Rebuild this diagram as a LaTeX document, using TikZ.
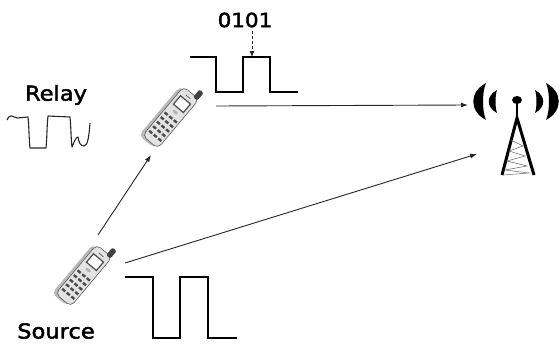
\documentclass[tikz,border=0pt]{standalone}
\usepackage{fontspec}
\setmainfont[FakeStretch=1.1, FakeBold=2.2]{DejaVu Sans}
\usetikzlibrary{arrows.meta}

\tikzset{
  link/.style={black!85, line width=0.9pt, -{Latex[length=7pt,width=5pt]}},
  pulse/.style={black, line width=1.3pt, line join=miter},
  label/.style={font=\fontsize{20.5}{20}\selectfont, inner sep=0pt},
  % a small mobile handset, drawn upright in pt
  handset/.pic={
    \fill[gray!55, rounded corners=5pt] (-13pt,-36pt) rectangle (7pt,28pt);
    \draw[gray!70!black, fill=gray!22, line width=0.6pt, rounded corners=5pt]
      (-10pt,-34pt) rectangle (10pt,30pt);
    \fill[black!75, rounded corners=2pt] (4pt,28pt) rectangle (9.5pt,38pt);
    \draw[black!70, fill=white, line width=1.2pt] (-6.5pt,10pt) rectangle (6.5pt,21pt);
    \draw[black!60, line width=0.8pt] (-3pt,25pt) -- (3pt,25pt);
    \fill[gray!60] (0pt,5pt) ellipse (3pt and 1.5pt);
    \foreach \ky in {-2,-8,-14,-20,-26}
      \foreach \kx in {-6,0,6}
        \fill[gray!60!black] (\kx pt-2pt,\ky pt-1.2pt) rectangle (\kx pt+2pt,\ky pt+1.2pt);
  }
}

\begin{document}
\begin{tikzpicture}[x=1pt, y=-1pt]
  \useasboundingbox (0,0) rectangle (560,343);

  % handsets
  \node[inner sep=0pt, minimum size=40pt] (relay) at (172,116) {};
  \node[inner sep=0pt, minimum size=40pt] (source) at (85,274) {};
  \pic[rotate=-40] at (relay) {handset};
  \pic[rotate=-40] at (source) {handset};

  \node[label] (relaytxt) at (56,95) {Relay};
  \node[label] (sourcetxt) at (56,331) {Source};
  \node[label, font=\fontsize{19.5}{19}\selectfont] (bits) at (245,20) {0101};

  % base station
  \node[inner sep=0pt, minimum width=40pt, minimum height=60pt] (bts) at (517,130) {};
  \foreach \s in {1,-1} {
    \begin{scope}[shift={(516,101)}, xscale=\s]
      \fill (-30,-18) .. controls (-47,-9) and (-47,10) .. (-30,19)
                      .. controls (-34,10) and (-34,-9) .. cycle;
      \fill (-19,-11) .. controls (-30,-5) and (-30,6) .. (-19,12)
                      .. controls (-21,6) and (-21,-5) .. cycle;
    \end{scope}
  }
  \fill (517,100) ellipse (5 and 4);
  \draw[line width=2.5pt] (517,100) -- (517,122);
  \draw[line width=3pt, line join=miter] (502,175) -- (517,118) -- (534,175);
  \draw[black!60, line width=0.5pt]
    (511,140) -- (523,146) -- (509,151) -- (525,156) -- (507,161)
    -- (527,166) -- (505,170) -- (529,173) -- (503,175);

  % signals
  \draw[pulse] (190,57) -- (216,57) -- (216,92) -- (243,92) -- (243,57)
    -- (270,57) -- (270,92) -- (298,92);
  \draw[pulse] (125,277) -- (153,277) -- (153,338) -- (180,338) -- (180,277)
    -- (208,277) -- (208,338) -- (237,338);
  \draw[black!85, line width=1.1pt, line join=round]
    (7,120) .. controls (10,113) and (13,117) .. (17,118) -- (28,117)
    .. controls (29,125) and (29,140) .. (30,148) -- (46,148)
    .. controls (47,138) and (47,124) .. (48,116) -- (70,117)
    .. controls (71,127) and (71,139) .. (72,147)
    .. controls (74,142) and (76,137) .. (78,137)
    .. controls (79,142) and (80,146) .. (84,146)
    .. controls (88,146) and (89,135) .. (90,123);

  % links
  \coordinate (src-up) at (98,235);
  \coordinate (relay-in) at (151,155);
  \coordinate (relay-out) at (216,106);
  \coordinate (src-out) at (125,263);
  \coordinate (bts-w) at (468,105);
  \coordinate (bts-sw) at (477,154);
  \coordinate (bit3) at (252,31);
  \coordinate (bit3-in) at (252,57);
  \draw[link] (src-up) -- (relay-in);
  \draw[link] (relay-out) -- (bts-w);
  \draw[link] (src-out) -- (bts-sw);
  \draw[black!85, line width=0.9pt, densely dashed, -{Latex[length=6pt,width=5pt]}] (bit3) -- (bit3-in);
\end{tikzpicture}
\end{document}
